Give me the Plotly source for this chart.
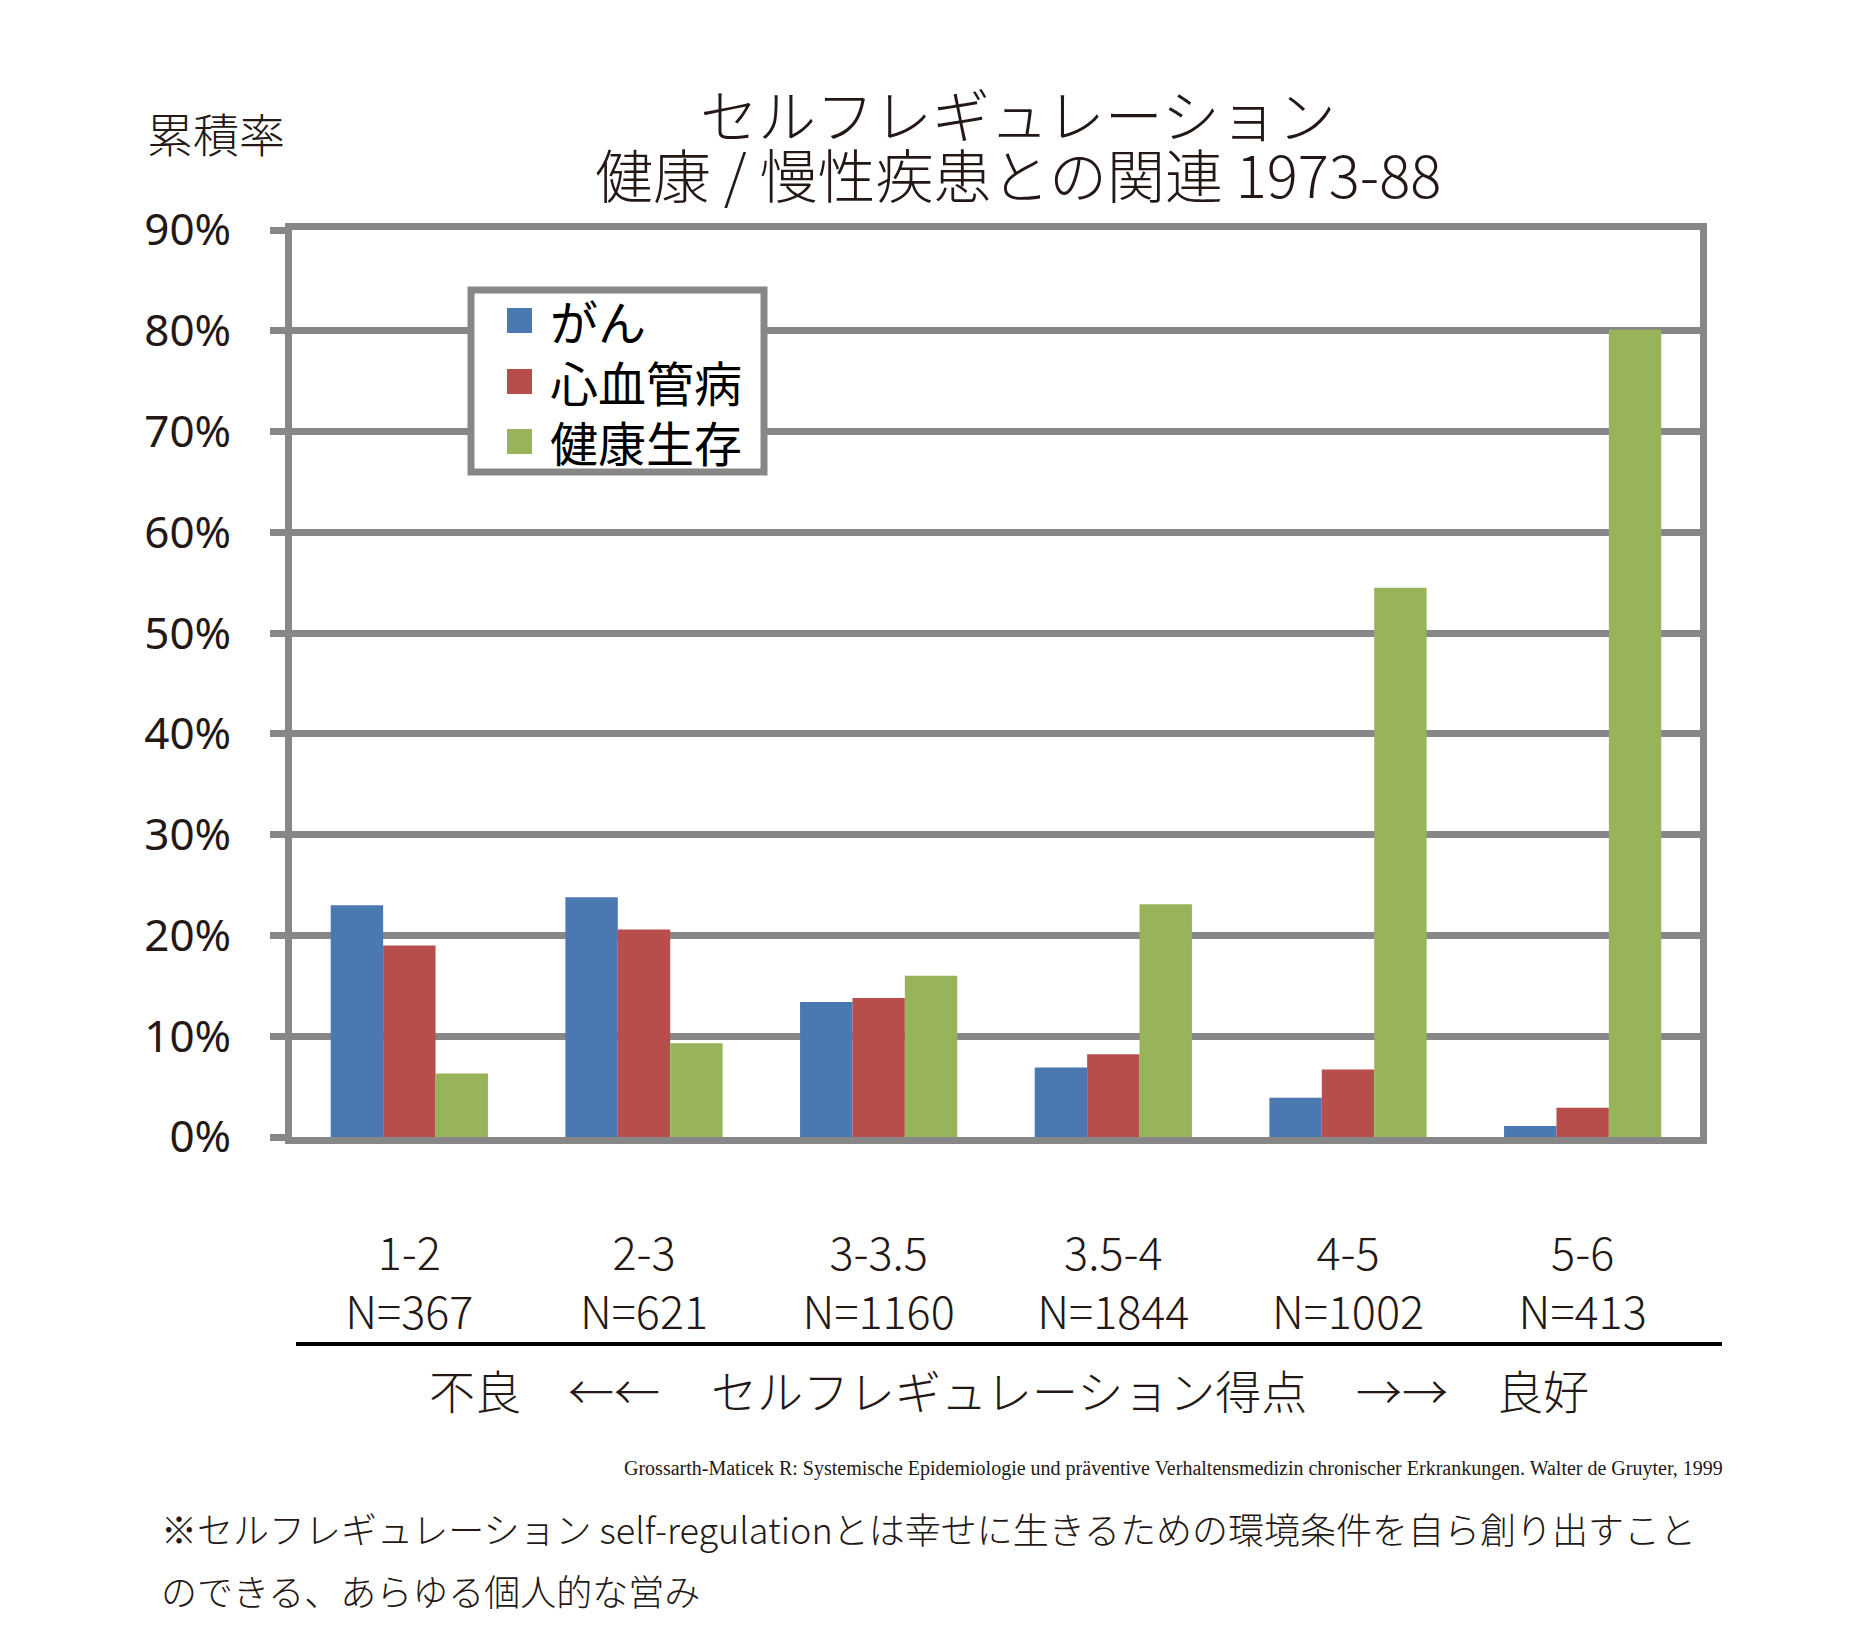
import plotly.graph_objects as go

# ---- data ----
categories = ["1-2", "2-3", "3-3.5", "3.5-4", "4-5", "5-6"]
sample_sizes = ["N=367", "N=621", "N=1160", "N=1844", "N=1002", "N=413"]
series_names = ["がん", "心血管病", "健康生存"]
cancer = [23.0, 23.8, 13.4, 6.9, 3.9, 1.1]
cardio = [19.0, 20.6, 13.8, 8.2, 6.7, 2.9]
healthy = [6.3, 9.3, 16.0, 23.1, 54.5, 80.1]
y_ticks = [0, 10, 20, 30, 40, 50, 60, 70, 80, 90]
y_tick_labels = [f"{v}%" for v in y_ticks]

colors = ["#4a79b2", "#b84e4c", "#98b45a"]
GRAY = "#878787"
INK = "#231815"
JP = "Noto Sans CJK JP"

W, H = 1872, 1646
L, R, T, B = 284, 1692, 222, 1129  # plot area in px (figure coords)


def px(x, y):
    return (x - L) / (R - L), (B - y) / (B - T)


fig = go.Figure()
x_idx = list(range(len(categories)))
for name, vals, c in zip(series_names, [cancer, cardio, healthy], colors):
    fig.add_trace(go.Bar(x=x_idx, y=vals, name=name, marker=dict(color=c, line=dict(width=0)),
                         showlegend=False))

tick_text = [f"{c}<br>{n}" for c, n in zip(categories, sample_sizes)]

fig.update_layout(
    width=W, height=H,
    margin=dict(l=L, r=W - R, t=T, b=H - B, autoexpand=False),
    paper_bgcolor="white", plot_bgcolor="white",
    barmode="group", bargap=0.33, bargroupgap=0,
    showlegend=False,
    font=dict(family=JP, color=INK),
    xaxis=dict(
        range=[-0.5, 5.5], tickvals=x_idx, ticktext=tick_text,
        showline=True, linecolor=GRAY, linewidth=7, mirror=True,
        showgrid=False, zeroline=False, ticks="",
        tickfont=dict(family=JP, size=45, color=INK, weight=300),
        ticklabelstandoff=72,
    ),
    yaxis=dict(
        range=[0, 90], tickvals=y_ticks, ticktext=y_tick_labels,
        showline=True, linecolor=GRAY, linewidth=7, mirror=True,
        showgrid=True, gridcolor=GRAY, gridwidth=7, zeroline=False,
        ticks="outside", ticklen=15, tickwidth=7, tickcolor=GRAY,
        tickfont=dict(family="Noto Sans", size=44, color=INK),
        ticklabelstandoff=30,
    ),
)

ann = []
shapes = []


def add_text(text, x, y, size, xanchor="center", family=JP, weight=300, color=INK):
    xp, yp = px(x, y)
    ann.append(dict(text=text, x=xp, y=yp, xref="paper", yref="paper", xanchor=xanchor,
                    yanchor="middle", showarrow=False,
                    font=dict(family=family, size=size, color=color, weight=weight)))


def add_rect(x0, y0, x1, y1, fill, line_color=None, line_width=0):
    a0, b0 = px(x0, y0)
    a1, b1 = px(x1, y1)
    shapes.append(dict(type="rect", xref="paper", yref="paper", x0=a0, y0=b0, x1=a1, y1=b1,
                       fillcolor=fill, layer="above",
                       line=dict(color=line_color or fill, width=line_width)))


# titles
add_text("セルフレギュレーション", 1010, 105, 58)
add_text("健康 / 慢性疾患との関連 1973-88", 1010, 165, 58)
add_text("累積率", 137, 124, 46, xanchor="left")

# legend (drawn box)
add_rect(463, 282, 756, 464, "white", GRAY, 7)
legend_y = [312, 373, 433]
for name, c, ly in zip(series_names, colors, legend_y):
    add_rect(499, ly - 12, 524, ly + 13, c)
    add_text(name, 540, ly, 48, xanchor="left", weight=400, color="black")

# axis caption under categories
add_text("不良", 467, 1381, 46)
add_text("←←", 606, 1381, 46)
add_text("セルフレギュレーション得点", 1001, 1381, 46)
add_text("→→", 1394, 1381, 46)
add_text("良好", 1535, 1381, 46)

add_text("Grossarth-Maticek R: Systemische Epidemiologie und präventive Verhaltensmedizin "
         "chronischer Erkrankungen. Walter de Gruyter, 1999",
         1717, 1460, 20, xanchor="right", family="Liberation Serif", weight=400)
add_text("※セルフレギュレーション self-regulationとは幸せに生きるための環境条件を自ら創り出すこと",
         151, 1520, 36, xanchor="left")
add_text("のできる、あらゆる個人的な営み", 151, 1582, 36, xanchor="left")

x0, y0 = px(288, 1336)
x1, _ = px(1714, 1336)
shapes.append(dict(type="line", xref="paper", yref="paper", x0=x0, x1=x1, y0=y0, y1=y0,
                   line=dict(color="black", width=4)))

fig.update_layout(annotations=ann, shapes=shapes)

fig.write_html("out.html")
